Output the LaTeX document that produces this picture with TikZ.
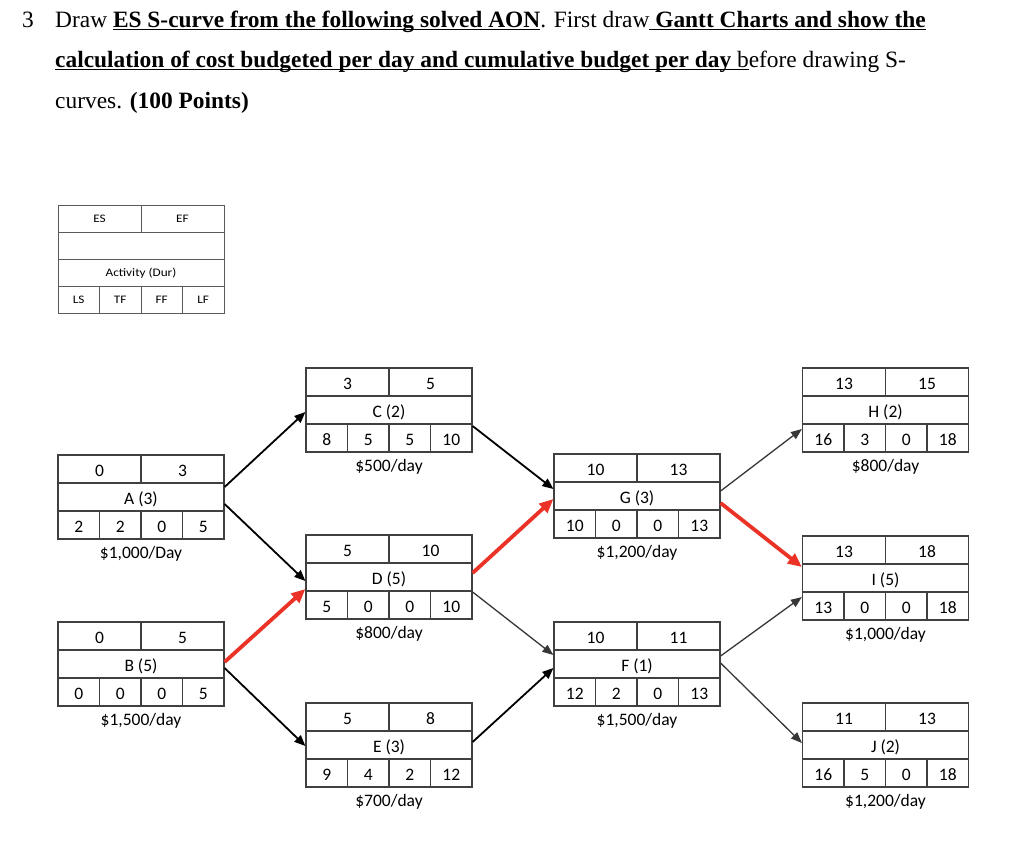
\documentclass[tikz,border=0pt]{standalone}
\usepackage{fontspec}
\setmainfont{Liberation Serif}
\newfontfamily\boxfont{Carlito}
\newfontfamily\legfont[FakeStretch=1.15]{Carlito}
\usetikzlibrary{arrows.meta,calc}
\definecolor{boxline}{RGB}{64,64,64}
\definecolor{legline}{RGB}{90,90,90}
\definecolor{critred}{RGB}{234,50,38}
\definecolor{thinline}{RGB}{55,55,55}
\newcommand{\myul}[1]{\setbox0\hbox{#1}\rlap{\rule[-3.4pt]{\wd0}{1.3pt}}\box0}
\tikzset{
  boxframe/.style={draw=boxline, line width=1.2pt, minimum width=166pt, minimum height=84pt, inner sep=0pt},
  gridln/.style={draw=boxline, line width=1.2pt},
  cell/.style={anchor=base, inner sep=0pt, font=\boxfont\fontsize{17.5}{20}\selectfont},
  legframe/.style={draw=legline, line width=1pt, minimum width=166pt, minimum height=108pt, inner sep=0pt},
  leggrid/.style={draw=legline, line width=1pt},
  legcell/.style={anchor=base, inner sep=0pt, font=\legfont\fontsize{11.5}{13}\selectfont},
  titleline/.style={anchor=base west, inner sep=0pt, font=\fontsize{23.4}{26}\selectfont},
  blkarrow/.style={draw=black, line width=1.8pt, -{Triangle[length=11pt,width=9pt]}},
  thinarrow/.style={draw=thinline, line width=1.3pt, -{Triangle[length=11pt,width=8.5pt]}},
  critarrow/.style={draw=critred, line width=3.8pt, -{Triangle[length=14pt,width=12pt]}}
}
\newcommand{\aonbox}[6]{%
  \begin{scope}[shift={(#2)}]
    \node[boxframe] (#1) at (0,0) {};
    \draw[gridln] (-83,-14) -- (83,-14) (-83,14) -- (83,14) (0,-42) -- (0,-14)
      (-41.5,14) -- (-41.5,42) (0,14) -- (0,42) (41.5,14) -- (41.5,42);
    \node[cell] (#1es) at (-41.5,-21) {#3};
    \node[cell] (#1ef) at (41.5,-21) {#4};
    \node[cell] (#1lab) at (0,7) {#5};
    \node[cell] (#1cost) at (0,61) {#6};
  \end{scope}}
\newcommand{\aonlow}[5]{%
  \begin{scope}[shift={(#1.center)}]
    \node[cell] (#1ls) at (-62.25,35) {#2};
    \node[cell] (#1tf) at (-20.75,35) {#3};
    \node[cell] (#1ff) at (20.75,35) {#4};
    \node[cell] (#1lf) at (62.25,35) {#5};
  \end{scope}}
\begin{document}
\begin{tikzpicture}[x=1pt,y=-1pt]
\useasboundingbox[fill=white] (0,0) rectangle (1024,844);

% title
\node[titleline] (num) at (22,27) {3};
\node[titleline] (l1) at (55,27) {Draw \myul{\textbf{ES S-curve from the following solved AON}}. First draw\myul{~\textbf{Gantt Charts and show the}}};
\node[titleline] (l2) at (55,67) {\myul{\textbf{calculation of cost budgeted per day and cumulative budget per day }b}efore drawing S-};
\node[titleline] (l3) at (55,108) {curves. \textbf{(100 Points)}};

% legend
\begin{scope}[shift={(141,259)}]
  \node[legframe] (legend) at (0,0) {};
  \draw[leggrid] (-83,-27) -- (83,-27) (-83,0) -- (83,0) (-83,27) -- (83,27)
    (0,-54) -- (0,-27) (-41.5,27) -- (-41.5,54) (0,27) -- (0,54) (41.5,27) -- (41.5,54);
  \node[legcell] (leges) at (-41.5,-36.5) {ES};
  \node[legcell] (legef) at (41.5,-36.5) {EF};
  \node[legcell] (legact) at (0,17.5) {Activity (Dur)};
  \node[legcell] (legls) at (-62.25,44.5) {LS};
  \node[legcell] (legtf) at (-20.75,44.5) {TF};
  \node[legcell] (legff) at (20.75,44.5) {FF};
  \node[legcell] (leglf) at (62.25,44.5) {LF};
\end{scope}

% activity boxes
\aonbox{A}{141,497}{0}{3}{A (3)}{\$1,000/Day}
\aonlow{A}{2}{2}{0}{5}
\aonbox{B}{141,664}{0}{5}{B (5)}{\$1,500/day}
\aonlow{B}{0}{0}{0}{5}
\aonbox{C}{389,410}{3}{5}{C (2)}{\$500/day}
\aonlow{C}{8}{5}{5}{10}
\aonbox{D}{389,577}{5}{10}{D (5)}{\$800/day}
\aonlow{D}{5}{0}{0}{10}
\aonbox{E}{389,745}{5}{8}{E (3)}{\$700/day}
\aonlow{E}{9}{4}{2}{12}
\aonbox{G}{637,496}{10}{13}{G (3)}{\$1,200/day}
\aonlow{G}{10}{0}{0}{13}
\aonbox{F}{637,664}{10}{11}{F (1)}{\$1,500/day}
\aonlow{F}{12}{2}{0}{13}
\aonbox{H}{885.5,410}{13}{15}{H (2)}{\$800/day}
\aonlow{H}{16}{3}{0}{18}
\aonbox{I}{885.5,578}{13}{18}{I (5)}{\$1,000/day}
\aonlow{I}{13}{0}{0}{18}
\aonbox{J}{885.5,745}{11}{13}{J (2)}{\$1,200/day}
\aonlow{J}{16}{5}{0}{18}

% connectors
\draw[blkarrow] ($(A.east)+(0,-10)$) -- ($(C.west)+(0,2)$);
\draw[blkarrow] ($(A.east)+(0,7)$) -- ($(D.west)+(0,4)$);
\draw[critarrow] ($(B.east)+(0,-2)$) -- ($(D.west)+(0,12)$);
\draw[blkarrow] ($(B.east)+(0,4)$) -- ($(E.west)+(0,1)$);
\draw[blkarrow] ($(C.east)+(0,16)$) -- ($(G.west)+(0,-7)$);
\draw[critarrow] ($(D.east)+(0,-4)$) -- ($(G.west)+(0,3)$);
\draw[thinarrow] ($(D.east)+(0,15)$) -- ($(F.west)+(0,-9)$);
\draw[blkarrow] ($(E.east)+(0,-3)$) -- ($(F.west)+(0,4)$);
\draw[thinarrow] ($(G.east)+(0,-5)$) -- ($(H.west)+(0,19)$);
\draw[critarrow] ($(G.east)+(0,7)$) -- ($(I.west)+(0,-11)$);
\draw[thinarrow] ($(F.east)+(0,-8)$) -- ($(I.west)+(0,19)$);
\draw[thinarrow] ($(F.east)+(0,-1)$) -- ($(J.west)+(0,-2)$);
\end{tikzpicture}
\end{document}
